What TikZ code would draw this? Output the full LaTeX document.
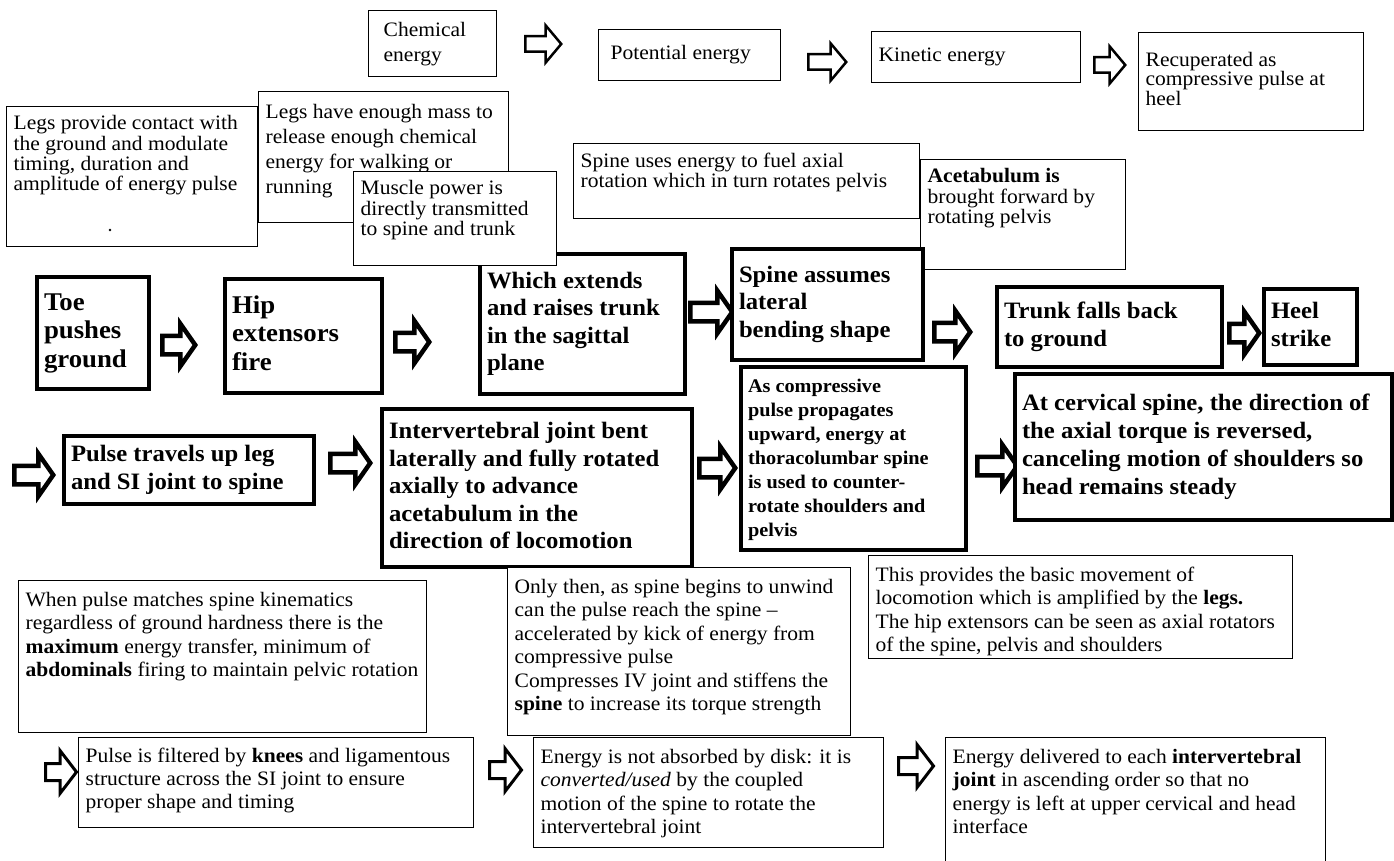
\documentclass[tikz,border=0pt]{standalone}
\usepackage{fontspec}
\setmainfont{Liberation Serif}[FakeStretch=1.05]
\usetikzlibrary{shapes.arrows}

% \tb{name}{x1}{y1}{x2}{y2}{style}{valign}{lines}
\newcommand{\tb}[8]{%
  \node[#6, anchor=north west] (#1) at (#2,#3)
   {\parbox[t][\dimexpr #5pt-#3pt-18pt\relax][#7]{\dimexpr #4pt-#2pt-14pt\relax}%
     {\begin{tabular}[t]{@{}l@{}}#8\end{tabular}}};%
}

\tikzset{
  nbox/.style={draw, line width=1.3pt, fill=white, inner xsep=7pt, inner ysep=9pt,
               font=\fontsize{20.5}{20}\selectfont},
  nboxL/.style={nbox, font=\fontsize{20.5}{23.5}\selectfont},
  bbox/.style={draw, line width=4pt, fill=white, inner xsep=7pt, inner ysep=9pt,
               font=\fontsize{23.5}{27.5}\selectfont\bfseries},
  bboxL/.style={bbox, font=\fontsize{25.5}{28.5}\selectfont\bfseries},
  sbold/.style={bbox, font=\fontsize{19.3}{24}\selectfont\bfseries},
  cbold/.style={bbox, font=\fontsize{23.5}{28}\selectfont\bfseries},
  sarr/.style={single arrow, draw, line width=2.5pt, fill=white, inner sep=6.5pt,
               single arrow head extend=11pt, single arrow tip angle=100,
               minimum height=#1, anchor=tail},
  sarrB/.style={single arrow, draw, line width=3pt, fill=white, inner sep=7pt,
               single arrow head extend=13pt, single arrow tip angle=105,
               minimum height=#1, anchor=tail},
  barr/.style={single arrow, draw, line width=4.5pt, fill=white, inner sep=7pt,
               single arrow head extend=12pt, single arrow tip angle=110,
               minimum height=#1, anchor=tail},
}

\begin{document}
\begin{tikzpicture}[x=1pt,y=-1pt]
\useasboundingbox (0,0) rectangle (1394,861);
\fill[white] (0,0) rectangle (1394,861);

% ---- block arrows (drawn first, boxes lie over them) ----
\node[sarr=36pt] (ar1) at (524,44) {};
\node[sarr=38pt] (ar2) at (807,62) {};
\node[sarr=31pt] (ar3) at (1093,65) {};

\node[barr=33pt] (arT) at (160,345) {};
\node[barr=34pt] (arH) at (393,342) {};
\node[barr=42pt] (arW) at (688,312) {};
\node[barr=36pt] (arS) at (932,332) {};
\node[barr=30pt] (arTr) at (1227,333) {};

\node[barr=39pt] (arL) at (12,475) {};
\node[barr=40pt] (arP) at (328,463) {};
\node[barr=36pt] (arI) at (697,468) {};
\node[barr=40pt] (arA) at (975,466) {};

\node[sarrB=31pt] (arB1) at (44,772) {};
\node[sarrB=32pt] (arB2) at (488,770) {};
\node[sarrB=35pt] (arB3) at (897,766) {};

% ---- top row ----
\tb{chem}{368}{10}{496}{76}{nbox,font=\fontsize{20.5}{25}\selectfont}{c}{\hspace*{8pt}Chemical\\\hspace*{8pt}energy}
\tb{pot}{598}{29}{780}{80}{nbox}{c}{\hspace*{5pt}Potential energy}
\tb{kin}{871}{31}{1080}{82}{nbox}{c}{Kinetic energy}
\tb{recup}{1138}{32}{1363}{130}{nbox,font=\fontsize{20.5}{18.5}\selectfont}{c}{Recuperated as\\compressive pulse at\\heel}

% ---- explanatory boxes, upper band ----
\tb{legsC}{6}{106}{257}{246}{nbox}{t}{Legs provide contact with\\the ground and modulate\\timing, duration and\\amplitude of energy pulse}
\fill (110,230) circle (1.4);
\tb{legsM}{258}{91}{508}{222}{nbox,font=\fontsize{20.5}{25}\selectfont}{t}{Legs have enough mass to\\release enough chemical\\energy for walking or\\running}
\tb{spineU}{573}{143}{919}{218}{nbox}{t}{Spine uses energy to fuel axial\\rotation which in turn rotates pelvis}
\tb{acet}{920}{159}{1125}{269}{nbox}{t}{\textbf{Acetabulum is}\\brought forward by\\rotating pelvis}

% ---- main bold row ----
\tb{toe}{35}{275}{147}{387}{bboxL}{c}{Toe\\pushes\\ground}
\tb{hip}{223}{277}{380}{391}{bboxL}{c}{Hip\\extensors\\fire}
\tb{which}{478}{252}{683}{392}{bbox}{c}{Which extends\\and raises trunk\\in the sagittal\\plane}
\tb{muscle}{353}{171}{556}{265}{nbox}{t}{Muscle power is\\directly transmitted\\to spine and trunk}
\tb{spineA}{730}{247}{921}{358}{bbox}{c}{Spine assumes\\lateral\\bending shape}
\tb{trunk}{995}{285}{1220}{365}{bbox}{c}{Trunk falls back\\to ground}
\tb{heel}{1262}{287}{1355}{363}{bbox}{c}{Heel\\strike}

% ---- second bold row ----
\tb{pulse}{62}{434}{312}{502}{bbox}{c}{Pulse travels up leg\\and SI joint to spine}
\tb{inter}{380}{407}{690}{565}{bbox}{c}{Intervertebral joint bent\\laterally and fully rotated\\axially to advance\\acetabulum in the\\direction of locomotion}
\tb{asComp}{739}{365}{964}{548}{sbold}{t}{As compressive\\pulse propagates\\upward, energy at\\thoracolumbar spine\\is used to counter-\\rotate shoulders and\\pelvis}
\tb{atCerv}{1013}{372}{1390}{518}{cbold}{c}{At cervical spine, the direction of\\the axial torque is reversed,\\canceling motion of shoulders so\\head remains steady}

% ---- lower explanatory boxes ----
\tb{whenP}{18}{580}{426}{732}{nboxL}{t}{When pulse matches spine kinematics\\regardless of ground hardness there is the\\\textbf{maximum} energy transfer, minimum of\\\textbf{abdominals} firing to maintain pelvic rotation}
\tb{onlyT}{507}{567}{850}{735}{nboxL}{t}{Only then, as spine begins to unwind\\can the pulse reach the spine --\\accelerated by kick of energy from\\compressive pulse\\Compresses IV joint and stiffens the\\\textbf{spine} to increase its torque strength}
\tb{thisP}{868}{555}{1292}{658}{nboxL}{t}{This provides the basic movement of\\locomotion which is amplified by the \textbf{legs.}\\The hip extensors can be seen as axial rotators\\of the spine, pelvis and shoulders}

% ---- bottom row ----
\tb{pulseF}{78}{737}{473}{827}{nbox,font=\fontsize{20.5}{23}\selectfont}{t}{Pulse is filtered by \textbf{knees} and ligamentous\\structure across the SI joint to ensure\\proper shape and timing}
\tb{energyNA}{533}{737}{883}{847}{nboxL}{t}{Energy is not absorbed by disk: it is\\\textit{converted/used} by the coupled\\motion of the spine to rotate the\\intervertebral joint}
\tb{energyD}{945}{737}{1325}{868}{nboxL}{t}{Energy delivered to each \textbf{intervertebral}\\\textbf{joint} in ascending order so that no\\energy is left at upper cervical and head\\interface}
\end{tikzpicture}
\end{document}
